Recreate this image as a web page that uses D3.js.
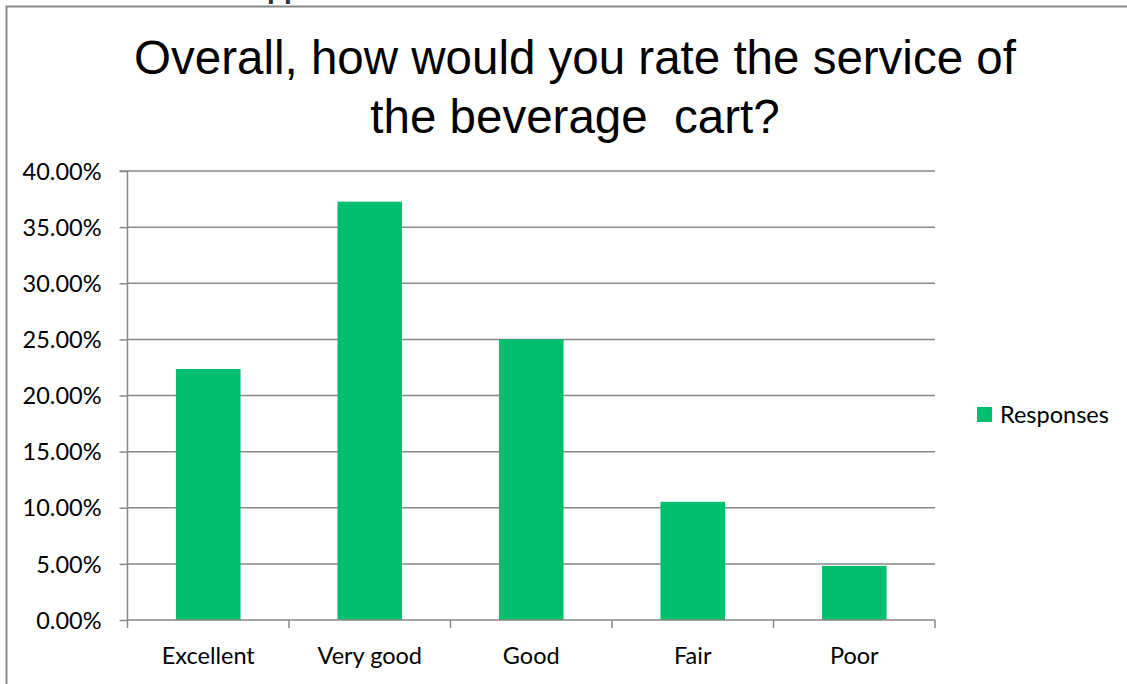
<!DOCTYPE html>
<html>
<head>
<meta charset="utf-8">
<script src="https://cdn.jsdelivr.net/npm/d3@7"></script>
<style>
  html, body { margin: 0; padding: 0; background: #fff; }
  svg { display: block; }
</style>
</head>
<body>
<svg id="chart" width="1127" height="684"></svg>
<script>
const title = ["Overall, how would you rate the service of", "the beverage  cart?"];
const categories = ["Excellent", "Very good", "Good", "Fair", "Poor"];
const values = [0.2236, 0.3727, 0.25, 0.1053, 0.0482];
const yTicks = [0, 0.05, 0.10, 0.15, 0.20, 0.25, 0.30, 0.35, 0.40];
const seriesName = "Responses";

const W = 1127, H = 684;
const svg = d3.select("#chart");
const font = "Lato, 'Open Sans', sans-serif";
const fs = 23.5;
const grid = "#898989";
const green = "#00bf6f";

// cut-off text from above the frame
svg.append("text").attr("x", 267).attr("y", -2)
  .attr("font-family", "'Liberation Sans', Arial, sans-serif")
  .attr("font-weight", "bold").attr("font-size", 28).attr("fill", "#333")
  .text("pp");

// frame
svg.append("path")
  .attr("d", `M6.5,${H} L6.5,6.5 L${W},6.5`)
  .attr("fill", "none").attr("stroke", grid).attr("stroke-width", 2);

const plot = { left: 127.5, right: 935, top: 171, bottom: 620 };

const x = d3.scaleBand().domain(categories).range([plot.left, plot.right]).paddingInner(0.6).paddingOuter(0.3);
const xb = d3.scaleBand().domain(categories).range([plot.left, plot.right]);
const y = d3.scaleLinear().domain([0, 0.40]).range([plot.bottom, plot.top]);

// title
svg.append("text")
  .attr("x", 575).attr("y", 74)
  .attr("text-anchor", "middle")
  .attr("font-family", "'Liberation Sans', Arial, sans-serif")
  .attr("font-size", 47.5).attr("fill", "#000")
  .style("white-space", "pre")
  .selectAll("tspan").data(title).join("tspan")
  .attr("x", 575).attr("dy", (d, i) => i === 0 ? 0 : 59)
  .text(d => d);

// gridlines
svg.append("g").selectAll("line").data(yTicks.filter(d => d > 0)).join("line")
  .attr("x1", plot.left).attr("x2", plot.right)
  .attr("y1", d => y(d)).attr("y2", d => y(d))
  .attr("stroke", grid).attr("stroke-width", 1.5);

// y axis
const yAxis = d3.axisLeft(y).tickValues(yTicks).tickSize(8).tickPadding(18)
  .tickFormat(d => (d * 100).toFixed(2) + "%");
const gy = svg.append("g").attr("transform", `translate(${plot.left},0)`).call(yAxis);
gy.select(".domain").attr("stroke", grid).attr("stroke-width", 1.5).attr("d", `M-8,${plot.top}H0V${plot.bottom}`);
gy.selectAll(".tick line").attr("stroke", grid).attr("stroke-width", 1.5);
gy.selectAll(".tick text").attr("font-family", font).attr("font-size", fs).attr("fill", "#000").attr("dy", "0.35em");

// bars
svg.append("g").selectAll("rect").data(values).join("rect")
  .attr("x", (d, i) => x(categories[i]))
  .attr("width", x.bandwidth())
  .attr("y", d => y(d))
  .attr("height", d => y(0) - y(d))
  .attr("fill", green);

// x axis
const gx = svg.append("g").attr("transform", `translate(0,${plot.bottom})`);
gx.append("line").attr("x1", plot.left).attr("x2", plot.right).attr("stroke", grid).attr("stroke-width", 1.5);
const bounds = categories.map(c => xb(c)).concat([plot.right]);
gx.selectAll("line.tk").data(bounds).join("line").attr("class", "tk")
  .attr("x1", d => d).attr("x2", d => d).attr("y1", 0).attr("y2", 8)
  .attr("stroke", grid).attr("stroke-width", 1.5);
gx.selectAll("text").data(categories).join("text")
  .attr("x", d => xb(d) + xb.bandwidth() / 2).attr("y", 44)
  .attr("text-anchor", "middle")
  .attr("font-family", font).attr("font-size", fs).attr("fill", "#000")
  .text(d => d);

// legend
const lg = svg.append("g").attr("transform", "translate(977,407)");
lg.append("rect").attr("width", 15).attr("height", 15).attr("fill", green);
lg.append("text").attr("x", 23).attr("y", 7.5).attr("dy", "0.35em")
  .attr("font-family", font).attr("font-size", fs).attr("fill", "#000")
  .text(seriesName);
</script>
</body>
</html>
